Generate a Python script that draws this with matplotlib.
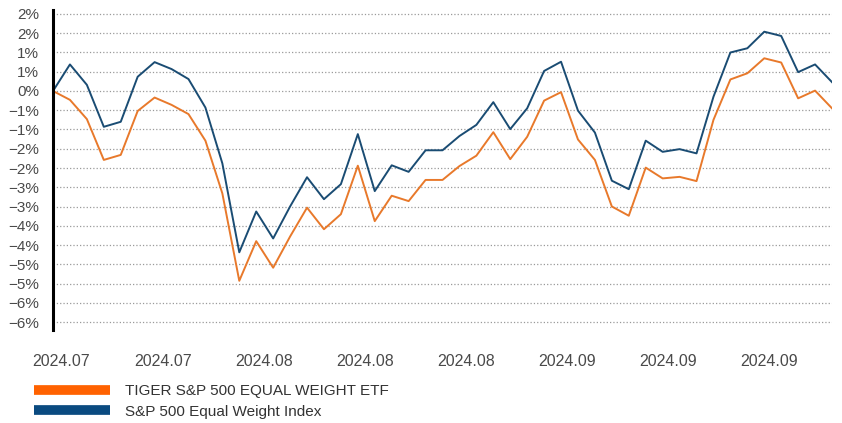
import numpy as np
import matplotlib.pyplot as plt
from matplotlib.lines import Line2D

plt.rcParams['font.family'] = ['Liberation Sans', 'DejaVu Sans']

# cumulative return (%) per trading day
etf = [0.00, -0.23, -0.73, -1.79, -1.66, -0.52, -0.17, -0.36, -0.60, -1.29,
       -2.66, -4.93, -3.90, -4.59, -3.78, -3.03, -3.59, -3.20, -1.94, -3.38,
       -2.72, -2.86, -2.31, -2.31, -1.95, -1.68, -1.07, -1.77, -1.19, -0.25,
       -0.03, -1.26, -1.79, -3.00, -3.24, -1.99, -2.27, -2.23, -2.34, -0.75,
       0.30, 0.46, 0.85, 0.74, -0.19, 0.01, -0.45]
index = [0.00, 0.69, 0.16, -0.93, -0.80, 0.37, 0.75, 0.57, 0.31, -0.43,
         -1.88, -4.19, -3.13, -3.83, -3.00, -2.24, -2.81, -2.42, -1.12, -2.60,
         -1.93, -2.10, -1.54, -1.54, -1.17, -0.88, -0.29, -0.99, -0.45, 0.52,
         0.76, -0.51, -1.08, -2.33, -2.55, -1.29, -1.58, -1.51, -1.62, -0.15,
         1.00, 1.11, 1.54, 1.43, 0.49, 0.69, 0.23]

xlabels = ['2024.07', '2024.07', '2024.08', '2024.08', '2024.08',
           '2024.09', '2024.09', '2024.09']
yticks = np.arange(2.0, -6.01, -0.5)
ylabels = ['2%', '2%', '1%', '1%', '0%', '\u22121%', '\u22121%', '\u22122%', '\u22122%',
           '\u22123%', '\u22123%', '\u22124%', '\u22124%', '\u22125%', '\u22125%',
           '\u22126%', '\u22126%']

fig = plt.figure(figsize=(8.42, 4.23), dpi=100)
ax = fig.add_axes([53/842, (423-330)/423, (832-53)/842, 320/423])

x = np.arange(len(etf))
ax.plot(x, etf, color='#E8792B', lw=1.4)
ax.plot(x, index, color='#1A4C73', lw=1.4)

ax.set_xlim(0, 46)
ax.set_ylim(-239/38.5, 81/38.5)
ax.set_yticks(yticks)
ax.set_yticklabels(ylabels)
ax.set_xticks(0.5 + 5.97*np.arange(len(xlabels)))
ax.set_xticklabels(xlabels)
ax.tick_params(axis='both', length=0, labelsize=11.5, colors='#4a4a4a')
ax.tick_params(axis='y', pad=10, labelsize=11)
ax.tick_params(axis='x', pad=17)
ax.yaxis.grid(True, color='#9a9a9a', ls=':', lw=0.9)
for s in ['top', 'right', 'bottom']:
    ax.spines[s].set_visible(False)
ax.spines['left'].set_linewidth(2.2)
ax.spines['left'].set_color('black')

handles = [Line2D([], [], color='#FF6200', lw=7, solid_capstyle='butt'),
           Line2D([], [], color='#0A4A80', lw=7, solid_capstyle='butt')]
fig.legend(handles, ['TIGER S&P 500 EQUAL WEIGHT ETF', 'S&P 500 Equal Weight Index'],
           loc='upper left', bbox_to_anchor=(34/842, 1 - 384/423), frameon=False,
           fontsize=11, handlelength=4.97, handletextpad=0.98, borderpad=0,
           borderaxespad=0, labelspacing=0.44, labelcolor='#333333')

fig.savefig('out.png', dpi=100)
